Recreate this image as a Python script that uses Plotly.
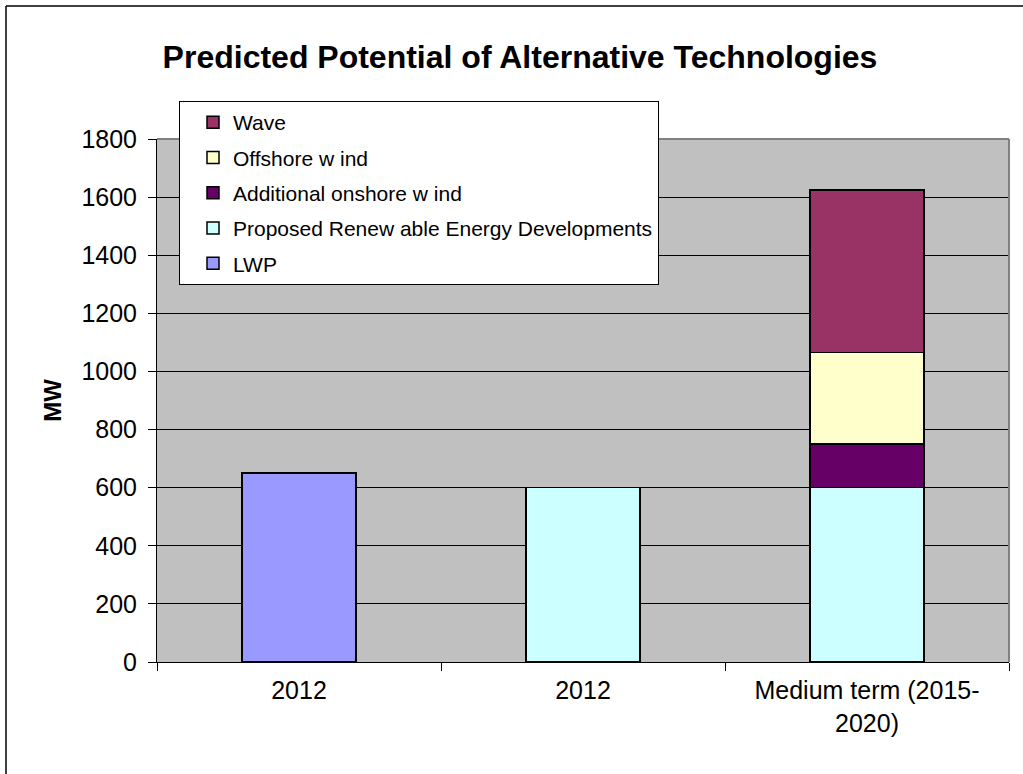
import plotly.graph_objects as go

# Category slots along the x axis (two separate "2012" columns plus the medium-term one)
positions = [0, 1, 2]
tick_labels = ["2012", "2012", "Medium term (2015-<br>2020)"]

# Capacity in MW per technology, one value per column (None = not present)
lwp = [651, None, None]
proposed_renewables = [None, 600, 600]
additional_onshore = [None, None, 150]
offshore_wind = [None, None, 315]
wave = [None, None, 560]

# stacking order bottom -> top; legend lists them top -> bottom
series = [
    ("LWP", lwp, "#9999FF"),
    ("Proposed Renew able Energy Developments", proposed_renewables, "#CCFFFF"),
    ("Additional onshore w ind", additional_onshore, "#660066"),
    ("Offshore w ind", offshore_wind, "#FFFFCC"),
    ("Wave", wave, "#993366"),
]

FONT = "Liberation Sans, Arial, sans-serif"

fig = go.Figure()
for i, (name, values, color) in enumerate(series):
    fig.add_trace(go.Bar(
        x=positions,
        y=values,
        name=name,
        legendgroup=name,
        legendrank=len(series) - i,
        marker=dict(color=color, line=dict(color="black", width=1.5)),
        hoverinfo="name+y",
    ))

# plot-area geometry in pixels
W, H = 1023, 774
L, R, T, B = 157, 14, 139, 112
pw, ph = W - L - R, H - T - B


def px_x(px):
    return (px - L) / pw


def px_y(py):
    return (H - B - py) / ph


shapes = [
    # grey frame on the top/right of the plot area
    dict(type="line", xref="paper", yref="paper", x0=0, x1=1, y0=1, y1=1,
         line=dict(color="#808080", width=2), layer="above"),
    dict(type="line", xref="paper", yref="paper", x0=1, x1=1, y0=0, y1=1,
         line=dict(color="#808080", width=2), layer="above"),
    # outer chart border
    dict(type="line", xref="paper", yref="paper", x0=px_x(6), x1=px_x(1030),
         y0=px_y(6), y1=px_y(6), line=dict(color="black", width=1.5)),
    dict(type="line", xref="paper", yref="paper", x0=px_x(6), x1=px_x(6),
         y0=px_y(6), y1=px_y(790), line=dict(color="black", width=1.5)),
]

fig.update_layout(
    width=W,
    height=H,
    margin=dict(l=L, r=R, t=T, b=B, pad=0),
    paper_bgcolor="white",
    plot_bgcolor="#C0C0C0",
    barmode="stack",
    bargap=0.6,
    font=dict(family=FONT, color="black", size=24),
    title=dict(
        text="<b>Predicted Potential of Alternative Technologies</b>",
        font=dict(family=FONT, size=32, color="black"),
        x=520 / W, xanchor="center",
        y=1 - 57 / H, yanchor="middle",
    ),
    xaxis=dict(
        range=[-0.5, 2.5],
        tickmode="array",
        tickvals=positions,
        ticktext=tick_labels,
        ticks="",
        showgrid=False,
        zeroline=False,
        showline=True,
        linecolor="black",
        linewidth=1,
        tickfont=dict(size=25),
        ticklabelstandoff=6,
        minor=dict(
            tickmode="array",
            tickvals=[-0.5, 0.5, 1.5, 2.5],
            ticks="outside",
            ticklen=8,
            tickcolor="black",
            tickwidth=1,
            showgrid=False,
        ),
    ),
    yaxis=dict(
        range=[0, 1800],
        dtick=200,
        tick0=0,
        showgrid=True,
        gridcolor="black",
        gridwidth=1,
        zeroline=False,
        showline=True,
        linecolor="black",
        linewidth=1,
        ticks="outside",
        ticklen=8,
        tickcolor="black",
        tickfont=dict(size=25),
        ticklabelstandoff=6,
        title=dict(text="<b>MW</b>", font=dict(size=24), standoff=12),
    ),
    legend=dict(
        x=px_x(179), xanchor="left",
        y=px_y(101), yanchor="top",
        bgcolor="white",
        bordercolor="black",
        borderwidth=1,
        font=dict(family=FONT, size=21, color="black"),
        traceorder="grouped",
        tracegroupgap=5,
        indentation=13,
        entrywidth=482,
        entrywidthmode="pixels",
        itemclick=False,
    ),
    shapes=shapes,
)

fig.write_html("out.html")
